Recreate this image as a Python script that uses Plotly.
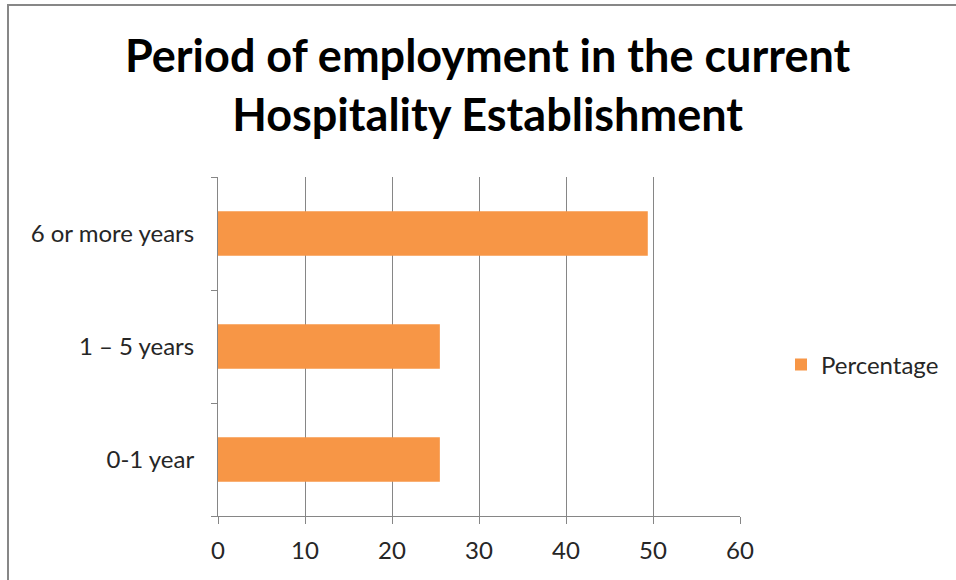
import plotly.graph_objects as go

categories = ["0-1 year", "1 – 5 years", "6 or more years"]
percentages = [25.5, 25.5, 49.4]
series_name = "Percentage"
x_ticks = [0, 10, 20, 30, 40, 50, 60]
title_text = "Period of employment in the current<br>Hospitality Establishment"

W, H = 956, 580
L, R, T, B = 218, 740, 177, 516

fig = go.Figure()
fig.add_trace(go.Bar(
    y=categories, x=percentages, orientation="h", name=series_name,
    marker=dict(color="#F79646", line=dict(width=0)),
    showlegend=True,
))

def px_to_paper_x(px):
    return (px - L) / (R - L)

def px_to_paper_y(py):
    return (B - py) / (B - T)

fig.update_layout(
    width=W, height=H,
    margin=dict(l=L, r=W - R, t=T, b=H - B, pad=0),
    paper_bgcolor="white", plot_bgcolor="white",
    font=dict(family="Lato, Carlito, Calibri, sans-serif", size=24, color="#262626"),
    bargap=0.605,
    showlegend=True,
    legend=dict(x=px_to_paper_x(781), xanchor="left", y=px_to_paper_y(365), yanchor="middle",
                font=dict(size=24, color="#262626"), bgcolor="rgba(0,0,0,0)",
                itemwidth=30),
    xaxis=dict(range=[0, 60], tickvals=x_ticks, showgrid=True, gridcolor="#868686", gridwidth=1,
               showline=True, linecolor="#868686", linewidth=1, ticks="outside", ticklen=7,
               tickcolor="#868686", zeroline=False, fixedrange=True, ticklabelstandoff=6),
    yaxis=dict(type="category", categoryorder="array", categoryarray=categories,
               showgrid=False, showline=True, linecolor="#868686", linewidth=1,
               ticks="outside", ticklen=6, tickcolor="#868686", tickson="boundaries",
               ticklabelstandoff=18, fixedrange=True),
    annotations=[dict(text="<b>" + title_text + "</b>", xref="paper", yref="paper",
                      x=px_to_paper_x(487.5), xanchor="center",
                      y=px_to_paper_y(84), yanchor="middle", showarrow=False,
                      font=dict(family="Lato, sans-serif", size=45, color="#000000"))],
    shapes=[dict(type="rect", xref="paper", yref="paper",
                 x0=px_to_paper_x(8), x1=px_to_paper_x(1100),
                 y0=px_to_paper_y(700), y1=px_to_paper_y(5),
                 line=dict(color="#878787", width=2), fillcolor="rgba(0,0,0,0)", layer="below")],
)

fig.write_html("out.html")
